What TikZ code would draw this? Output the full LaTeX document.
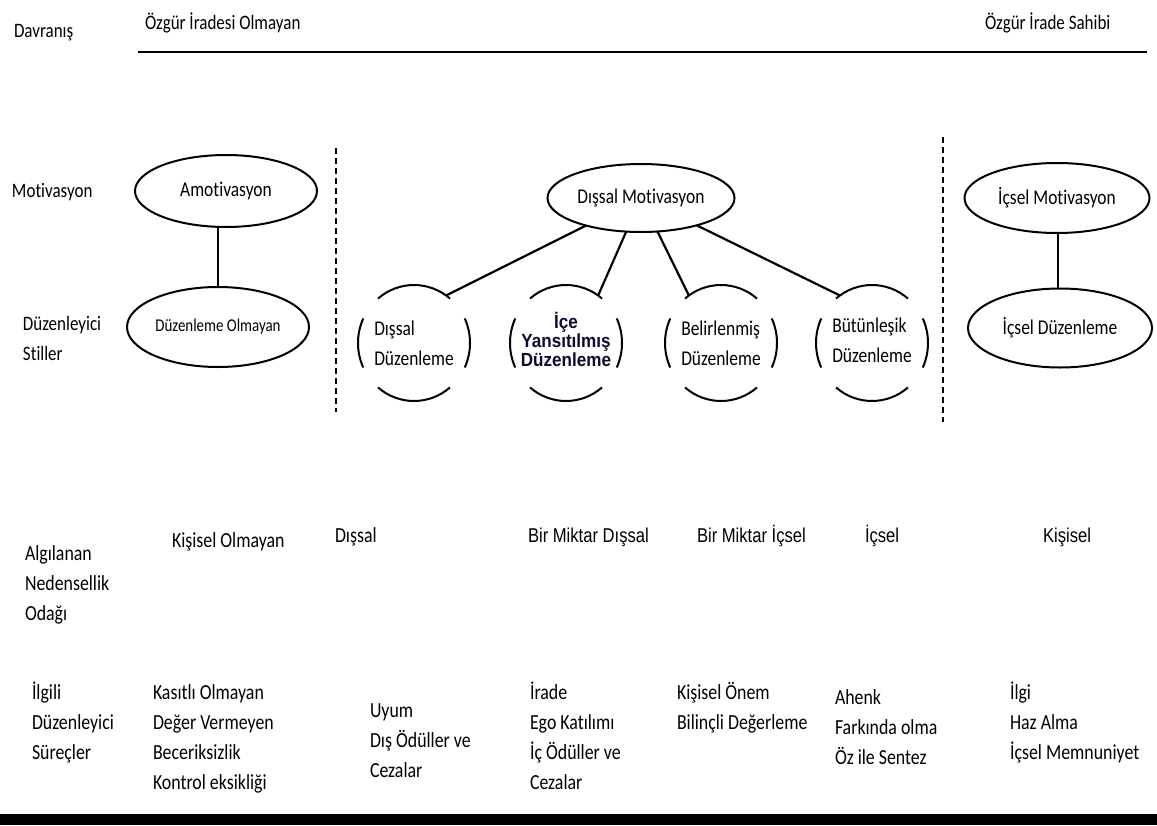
\documentclass[tikz,border=0pt]{standalone}
\usepackage{fontspec}
\setmainfont[FakeStretch=0.83, Ligatures=NoCommon]{Carlito}
\newfontfamily\arialf[FakeStretch=0.83]{Liberation Sans}
\newfontfamily\arialb[FakeStretch=0.9]{Liberation Sans Bold}
\usetikzlibrary{shapes.geometric}
\definecolor{navyd}{RGB}{12,12,48}
\begin{document}
\begin{tikzpicture}[x=1pt,y=-1pt,
 every node/.style={inner sep=0pt, outer sep=0pt},
 txt/.style={anchor=north west, align=left, font=\fontsize{21.5}{30}\selectfont},
 hdr/.style={anchor=north west, align=left, font=\fontsize{20.5}{30}\selectfont},
 ar/.style={anchor=north west, align=left, font=\arialf\fontsize{20}{30}\selectfont},
 ell/.style={draw, ellipse, line width=2pt, font=\fontsize{21}{24}\selectfont},
 brk/.style={ellipse, minimum width=112pt, minimum height=116pt, align=left, font=\fontsize{21}{30}\selectfont},
 link/.style={line width=2.2pt},
 arcl/.style={line width=2pt},
 sep/.style={line width=1.5pt, dash pattern=on 6pt off 4pt}]

\useasboundingbox[fill=white] (0,0) rectangle (1157,825);

% header
\node[hdr] (davr) at (14,16) {\strut Davranış};
\node[hdr] (ozgur1) at (145,8) {\strut Özgür İradesi Olmayan};
\node[hdr] (ozgur2) at (985,8) {\strut Özgür İrade Sahibi};
\coordinate (hl) at (138,52);
\coordinate (hr) at (1147,52);
\draw[line width=2.6pt] (hl) -- (hr);

% row labels
\node[hdr] (mot) at (12,176) {\strut Motivasyon};
\node[hdr] (dst) at (23,309) {\strut Düzenleyici\\Stiller};

% separators
\coordinate (s1a) at (336,148); \coordinate (s1b) at (336,412);
\coordinate (s2a) at (943,137); \coordinate (s2b) at (943,422);
\draw[sep] (s1a) -- (s1b);
\draw[sep] (s2a) -- (s2b);

% amotivation
\node[ell, minimum width=182pt, minimum height=72pt] (amot) at (226,191) {Amotivasyon};
\node[ell, minimum width=182pt, minimum height=80pt, font=\fontsize{18}{20}\selectfont] (duzol) at (218,327) {Düzenleme Olmayan};
\draw[line width=1.6pt] (amot.south -| 218,0) -- (duzol.north -| 218,0);

% extrinsic
\node[ell, minimum width=187pt, minimum height=68pt] (dm) at (641,198) {Dışsal Motivasyon};
\node[brk] (c1) at (414,343) {Dışsal\\Düzenleme};
\node[brk, align=center, font=\arialb\fontsize{19}{19}\selectfont, text=navyd] (c2) at (566,339) {İçe\\Yansıtılmış\\Düzenleme};
\node[brk] (c3) at (721,343) {Belirlenmiş\\Düzenleme};
\node[brk] (c4) at (872,340) {Bütünleşik\\Düzenleme};

\foreach \c/\cy in {c1/343,c2/343,c3/343,c4/343}{
  \coordinate (cc) at (\c.center |- 0,\cy);
  \draw[arcl] (cc) ++(50:56pt and 58pt) arc[start angle=50, end angle=130, x radius=56pt, y radius=58pt];
  \draw[arcl] (cc) ++(155:56pt and 58pt) arc[start angle=155, end angle=205, x radius=56pt, y radius=58pt];
  \draw[arcl] (cc) ++(230:56pt and 58pt) arc[start angle=230, end angle=310, x radius=56pt, y radius=58pt];
  \draw[arcl] (cc) ++(-25:56pt and 58pt) arc[start angle=-25, end angle=25, x radius=56pt, y radius=58pt];
}
\path (c1.center |- 0,343) ++(55:56pt and 58pt) coordinate (c1t);
\path (c2.center |- 0,343) ++(55:56pt and 58pt) coordinate (c2t);
\path (c3.center |- 0,343) ++(125:56pt and 58pt) coordinate (c3t);
\path (c4.center |- 0,343) ++(125:56pt and 58pt) coordinate (c4t);
\draw[link] (dm) -- (c1t);
\draw[link] (dm) -- (c2t);
\draw[link] (dm) -- (c3t);
\draw[link] (dm) -- (c4t);

% intrinsic
\node[ell, minimum width=185pt, minimum height=70pt] (icm) at (1057,198) {İçsel Motivasyon};
\node[ell, minimum width=184pt, minimum height=79pt] (icd) at (1060,328) {İçsel Düzenleme};
\draw[line width=1.6pt] (icm.south -| 1058,0) -- (icd.north -| 1058,0);

% locus of causality
\node[txt] (alg) at (25,539) {\strut Algılanan\\Nedensellik\\Odağı};
\node[txt] (l1) at (172,526) {\strut Kişisel Olmayan};
\node[txt] (l2) at (335,521) {\strut Dışsal};
\node[ar] (l3) at (528,521) {\strut Bir Miktar Dışsal};
\node[ar] (l4) at (697,521) {\strut Bir Miktar İçsel};
\node[ar] (l5) at (865,521) {\strut İçsel};
\node[ar] (l6) at (1043,521) {\strut Kişisel};

% processes
\node[txt] (ilg) at (32,678) {\strut İlgili\\Düzenleyici\\Süreçler};
\node[txt] (p1) at (153,678) {\strut Kasıtlı Olmayan\\Değer Vermeyen\\Beceriksizlik\\Kontrol eksikliği};
\node[txt] (p2) at (370,696) {\strut Uyum\\Dış Ödüller ve\\Cezalar};
\node[txt] (p3) at (530,678) {\strut İrade\\Ego Katılımı\\İç Ödüller ve\\Cezalar};
\node[txt] (p4) at (677,678) {\strut Kişisel Önem\\Bilinçli Değerleme};
\node[txt] (p5) at (835,683) {\strut Ahenk\\Farkında olma\\Öz ile Sentez};
\node[txt] (p6) at (1010,678) {\strut İlgi\\Haz Alma\\İçsel Memnuniyet};

% bottom bar
\coordinate (b1) at (0,814);
\coordinate (b2) at (1157,825);
\fill[black] (b1) rectangle (b2);
\end{tikzpicture}
\end{document}
